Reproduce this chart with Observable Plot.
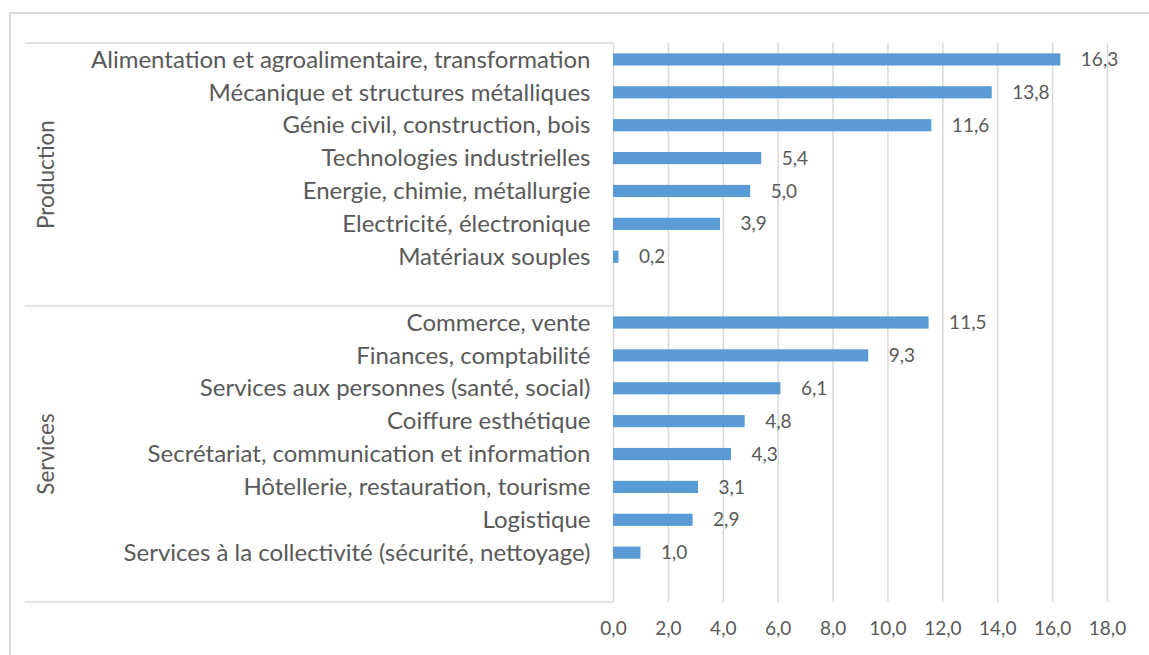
<!DOCTYPE html>
<html>
<head>
<meta charset="utf-8">
<script src="https://cdn.jsdelivr.net/npm/d3@7"></script>
<script src="https://cdn.jsdelivr.net/npm/@observablehq/plot@0.6"></script>
<style>
  html, body { margin: 0; padding: 0; background: #ffffff; }
  #wrap { position: relative; width: 1149px; height: 655px; overflow: hidden; }
  #frame { position: absolute; left: 9px; top: 12px; width: 1300px; height: 800px;
           border: 2px solid #dadada; box-sizing: border-box; }
  #chart { position: absolute; left: 0; top: 0; }
</style>
</head>
<body>
<div id="wrap"><div id="frame"></div><div id="chart"></div></div>
<script>
// ---- data ----
const groups = ["Production", "Services"];
const productionCategories = [
  "Alimentation et agroalimentaire, transformation",
  "Mécanique et structures métalliques",
  "Génie civil, construction, bois",
  "Technologies industrielles",
  "Energie, chimie, métallurgie",
  "Electricité, électronique",
  "Matériaux souples"
];
const productionValues = [16.3, 13.8, 11.6, 5.4, 5.0, 3.9, 0.2];
const servicesCategories = [
  "Commerce, vente",
  "Finances, comptabilité",
  "Services aux personnes (santé, social)",
  "Coiffure esthétique",
  "Secrétariat, communication et information",
  "Hôtellerie, restauration, tourisme",
  "Logistique",
  "Services à la collectivité (sécurité, nettoyage)"
];
const servicesValues = [11.5, 9.3, 6.1, 4.8, 4.3, 3.1, 2.9, 1.0];
const xTicks = [0, 2, 4, 6, 8, 10, 12, 14, 16, 18];

// ---- build table ----
const gapA = "\u2060gapA", gapB = "\u2060gapB";
const data = [
  ...productionCategories.map((c, i) => ({group: groups[0], category: c, value: productionValues[i]})),
  ...servicesCategories.map((c, i) => ({group: groups[1], category: c, value: servicesValues[i]}))
];
const yDomain = [...productionCategories, gapA, ...servicesCategories, gapB];
const fmt = v => v.toFixed(1).replace(".", ",");
const font = "Lato, 'Open Sans', sans-serif";
const textColor = "#595959";

const plot = Plot.plot({
  width: 1149,
  height: 655,
  marginLeft: 613,
  marginRight: 42,
  marginTop: 43,
  marginBottom: 53,
  style: {fontFamily: font, color: textColor, background: "transparent", overflow: "visible"},
  x: {domain: [0, 18]},
  y: {domain: yDomain, paddingInner: 0.63, paddingOuter: 0.315, round: false},
  marks: [
    Plot.ruleX(xTicks, {stroke: "#d9d9d9", strokeWidth: 1.5}),
    Plot.barX(data, {x: "value", y: "category", fill: "#5b9bd5"}),
    Plot.text(data, {x: "value", y: "category", text: d => fmt(d.value), dx: 20,
      textAnchor: "start", fontSize: 19, fill: textColor}),
    Plot.axisY({tickSize: 0, tickPadding: 23, fontSize: 24, label: null,
      tickFormat: d => (d === gapA || d === gapB) ? "" : d}),
    Plot.axisX(xTicks, {tickSize: 0, tickPadding: 19, fontSize: 19, label: null, tickFormat: fmt})
  ]
});
document.getElementById("chart").appendChild(plot);

// ---- group separators and group labels (left multi-level axis) ----
const ys = plot.scale("y");
const xs = plot.scale("x");
const [r0, r1] = ys.range;
const step = (r1 - r0) / yDomain.length;
const rowTop = key => r0 + yDomain.indexOf(key) * step;
const bounds = [rowTop(productionCategories[0]), rowTop(servicesCategories[0]), rowTop(gapB) + step];
const x0 = xs.apply(0);
const svg = d3.select(plot);
const g = svg.append("g");
g.selectAll("line").data(bounds).join("line")
  .attr("x1", 25).attr("x2", x0)
  .attr("y1", d => d).attr("y2", d => d)
  .attr("stroke", "#d9d9d9").attr("stroke-width", 1.5);
g.selectAll("text").data(groups).join("text")
  .attr("transform", (d, i) => `translate(45,${(bounds[i] + bounds[i + 1]) / 2}) rotate(-90)`)
  .attr("text-anchor", "middle")
  .attr("dominant-baseline", "central")
  .attr("fill", textColor)
  .attr("font-family", font)
  .attr("font-size", 22.5)
  .text(d => d);
</script>
</body>
</html>
